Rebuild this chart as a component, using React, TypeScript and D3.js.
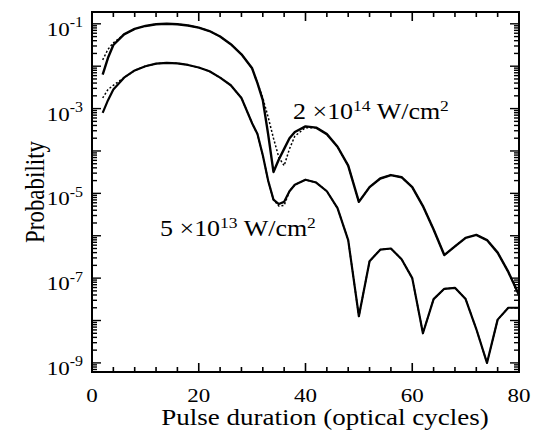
import React, { useEffect, useRef } from 'react';
import * as d3 from 'd3';

// pulse duration grid (optical cycles)
const cycles = [2, 3, 4, 6, 8, 10, 12, 14, 16, 18, 20, 22, 24, 26, 28, 30, 31, 32, 33, 34, 35, 36, 37, 38, 40, 42, 44, 46, 48, 50, 52, 54, 56, 58, 60, 62, 64, 66, 68, 70, 72, 74, 76, 78, 80];

// 2x10^14 W/cm^2
const highSolid = [6.31e-3, 1.58e-2, 3.16e-2, 5.62e-2, 7.59e-2, 8.91e-2, 9.77e-2, 0.1, 9.77e-2, 9.12e-2, 8.13e-2, 6.76e-2, 5.01e-2, 3.31e-2, 1.91e-2, 8.91e-3, 3.98e-3, 1.58e-3, 2.5e-4, 3.2e-5, 6.3e-5, 1.12e-4, 2.0e-4, 2.8e-4, 3.8e-4, 3.55e-4, 2.5e-4, 1.26e-4, 4.5e-5, 6.3e-6, 1.4e-5, 2.24e-5, 2.7e-5, 2.4e-5, 1.4e-5, 5.0e-6, 1.4e-6, 3.5e-7, 5.6e-7, 8.9e-7, 1.05e-6, 7.9e-7, 4.0e-7, 1.4e-7, 4.0e-8];
const highDotted = [1.41e-2, 2.51e-2, 3.55e-2, 5.62e-2, 7.59e-2, 8.91e-2, 9.77e-2, 0.1, 9.77e-2, 9.12e-2, 8.13e-2, 6.76e-2, 5.01e-2, 3.31e-2, 1.91e-2, 8.91e-3, 3.98e-3, 1.78e-3, 6.3e-4, 2.0e-4, 7.1e-5, 4.5e-5, 1.12e-4, 2.24e-4, 3.55e-4, 3.55e-4, 2.5e-4, 1.26e-4, 4.5e-5, 6.3e-6, 1.4e-5, 2.24e-5, 2.7e-5, 2.4e-5, 1.4e-5, 5.0e-6, 1.4e-6, 3.5e-7, 5.6e-7, 8.9e-7, 1.05e-6, 7.9e-7, 4.0e-7, 1.4e-7, 4.0e-8];

// 5x10^13 W/cm^2
const lowSolid = [7.9e-4, 1.58e-3, 2.82e-3, 5.37e-3, 7.94e-3, 1.0e-2, 1.15e-2, 1.2e-2, 1.17e-2, 1.07e-2, 9.33e-3, 7.59e-3, 5.37e-3, 3.55e-3, 1.78e-3, 4.5e-4, 2.5e-4, 7.9e-5, 2.0e-5, 7.1e-6, 5.6e-6, 6.3e-6, 1.12e-5, 1.6e-5, 2.1e-5, 1.8e-5, 1.12e-5, 4.5e-6, 7.9e-7, 1.26e-8, 2.5e-7, 4.7e-7, 5.0e-7, 2.8e-7, 1.0e-7, 5.0e-9, 3.2e-8, 5.6e-8, 5.9e-8, 3.2e-8, 6.3e-9, 1.0e-9, 1.05e-8, 2.0e-8, 2.0e-8];
const lowDotted = [1.78e-3, 2.82e-3, 3.55e-3, 5.37e-3, 7.94e-3, 1.0e-2, 1.15e-2, 1.2e-2, 1.17e-2, 1.07e-2, 9.33e-3, 7.59e-3, 5.37e-3, 3.55e-3, 1.78e-3, 4.5e-4, 2.5e-4, 7.9e-5, 2.0e-5, 7.1e-6, 5.0e-6, 5.2e-6, 1.12e-5, 1.6e-5, 2.1e-5, 1.8e-5, 1.12e-5, 4.5e-6, 7.9e-7, 1.26e-8, 2.5e-7, 4.7e-7, 5.0e-7, 2.8e-7, 1.0e-7, 5.0e-9, 3.2e-8, 5.6e-8, 5.9e-8, 3.2e-8, 6.3e-9, 1.0e-9, 1.05e-8, 2.0e-8, 2.0e-8];

const xTicks = d3.range(0, 81, 4);
const xLabels = [0, 20, 40, 60, 80];
const yExponents = [-1, -3, -5, -7, -9];

const FONT = '"Liberation Serif", "Times New Roman", serif';
const SQ = 0.85; // the scanned figure's text is a bit squat

const App = () => {
  const svgRef = useRef<SVGSVGElement>(null);

  useEffect(() => {
    const svg = d3.select(svgRef.current);
    svg.selectAll('*').remove();
    const left = 92, right = 519, top = 12, bottom = 372;

    const x = d3.scaleLinear().domain([0, 80]).range([left, right]);
    const y = d3.scaleLog().domain([6.1e-10, 0.19]).range([bottom, top]);

    const g = svg.append('g');

    // x ticks, bottom and top, pointing inward
    xTicks.forEach(t => {
      const len = t % 20 === 0 ? 9 : 5;
      g.append('line').attr('x1', x(t)).attr('x2', x(t)).attr('y1', bottom).attr('y2', bottom - len)
        .attr('stroke', '#000').attr('stroke-width', 1.6);
      g.append('line').attr('x1', x(t)).attr('x2', x(t)).attr('y1', top).attr('y2', top + len)
        .attr('stroke', '#000').attr('stroke-width', 1.6);
    });

    // y ticks (log), left and right
    const yt = y.ticks(100).filter(v => v >= 6.1e-10 && v <= 0.19);
    yt.forEach(v => {
      const m = Math.round(v / Math.pow(10, Math.floor(Math.log10(v) + 1e-9)));
      const len = m === 1 ? 9 : 5;
      g.append('line').attr('x1', left).attr('x2', left + len).attr('y1', y(v)).attr('y2', y(v))
        .attr('stroke', '#000').attr('stroke-width', 1.4);
      g.append('line').attr('x1', right).attr('x2', right - len).attr('y1', y(v)).attr('y2', y(v))
        .attr('stroke', '#000').attr('stroke-width', 1.4);
    });

    g.append('rect').attr('x', left).attr('y', top).attr('width', right - left).attr('height', bottom - top)
      .attr('fill', 'none').attr('stroke', '#000').attr('stroke-width', 2);

    // x labels
    g.selectAll('.xl').data(xLabels).enter().append('text')
      .attr('transform', d => `translate(${x(d)},402) scale(1,${SQ})`)
      .attr('text-anchor', 'middle').attr('font-family', FONT).attr('font-size', 23)
      .text(d => d);

    // y labels 10^n
    yExponents.forEach(e => {
      const t = g.append('text').attr('transform', `translate(83,${y(Math.pow(10, e)) + 12}) scale(1,${SQ})`)
        .attr('text-anchor', 'end').attr('font-family', FONT).attr('font-size', 23);
      t.append('tspan').text('10');
      t.append('tspan').attr('dy', -10).attr('font-size', 16).text(String(e));
    });

    g.append('text').attr('transform', `translate(325,425) scale(1,${SQ})`).attr('text-anchor', 'middle')
      .attr('font-family', FONT).attr('font-size', 27).text('Pulse duration (optical cycles)');
    g.append('text').attr('transform', `translate(44,192) scale(1,${SQ}) rotate(-90)`).attr('text-anchor', 'middle')
      .attr('font-family', FONT).attr('font-size', 27).text('Probability');

    const line = d3.line<number>().x((d, i) => x(cycles[i])).y(d => y(d));

    const series = [
      { v: highSolid, dash: null, w: 2.4 },
      { v: highDotted, dash: '2,2', w: 1.5 },
      { v: lowSolid, dash: null, w: 2.2 },
      { v: lowDotted, dash: '2,2', w: 1.5 },
    ];
    series.forEach(s => {
      g.append('path').attr('d', line(s.v)).attr('fill', 'none').attr('stroke', '#000')
        .attr('stroke-width', s.w).attr('stroke-dasharray', s.dash).attr('stroke-linejoin', 'round');
    });

    // annotations
    const annot = (ax, ay, lead, exp) => {
      const t = g.append('text').attr('transform', `translate(${ax},${ay}) scale(1,${SQ})`)
        .attr('font-family', FONT).attr('font-size', 26);
      t.append('tspan').text(lead + ' \u00d710');
      t.append('tspan').attr('dy', -10).attr('font-size', 17.5).text(exp);
      t.append('tspan').attr('dy', 10).text(' W/cm');
      t.append('tspan').attr('dy', -10).attr('font-size', 17.5).text('2');
    };
    annot(293, 119, '2', '14');
    annot(160, 236, '5', '13');
  }, []);

  return (
    <svg ref={svgRef} width="537" height="430" style={{ position: 'absolute', left: 0, top: 0, background: '#fff' }}>
    </svg>
  );
};

export default App;
